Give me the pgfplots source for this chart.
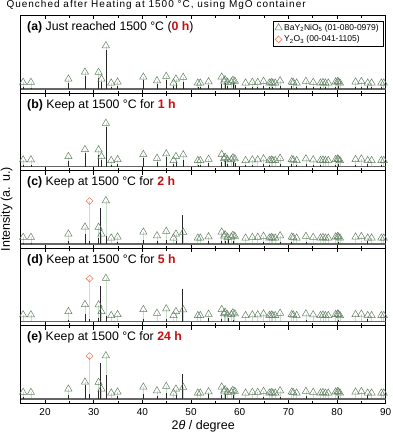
\documentclass[border=0pt]{standalone}
\usepackage{fontspec}
\setmainfont{Liberation Sans}
\usepackage{pgfplots}
\pgfplotsset{compat=1.18}
\usepgfplotslibrary{groupplots}
\usepackage{pgfplotstable}
\usepackage{xcolor}
\definecolor{trigreen}{RGB}{100,130,100}
\definecolor{lightgreen}{RGB}{200,222,200}
\definecolor{yorange}{RGB}{238,130,100}
\definecolor{lightorange}{RGB}{246,205,180}
\definecolor{hred}{RGB}{200,16,16}
\newcommand\lab{\fontsize{12.3}{14}\selectfont}

% reference lines BaY2NiO5 (01-080-0979): 2theta, marker height
\pgfplotstableread{
x h
15.5 6.7
17.1 6.7
24.8 10
28.2 17
31.0 16.7
31.6 10
32.5 43.3
33.6 6
34.9 7
40.2 12
43.0 8.3
44.9 12.7
46.4 6
46.9 10
48.4 11.7
51.4 6
51.9 6
53.6 7.3
56.3 12
56.8 8
57.0 9.3
57.5 6.7
58.3 7
58.6 8.7
59.0 7.7
61.2 6
62.6 6.7
63.7 6.7
64.9 7.7
66.1 6
66.5 6.5
66.8 6
67.3 6
68.3 8.3
70.7 7
71.0 6.5
71.7 6
73.6 7.7
75.1 6.7
76.6 6
77.1 6.5
77.6 6
78.2 6
79.7 7
80.1 7.5
80.3 7
80.6 6
83.8 7
85.0 7.5
86.3 6
87.1 6
89.1 6
89.6 6
}\bynio

% Y2O3 (00-041-1105)
\pgfplotstableread{
x h
29.15 43
}\yox

% measured patterns (peak heights above baseline)
\pgfplotstableread{
x h
15.5 2
17.1 1.5
24.8 6
28.2 13
31.0 11
31.6 7
32.5 39
33.6 2
34.9 3
40.2 9
43.0 5
44.9 9
46.4 3
46.9 6
48.4 7
51.4 2
51.9 2
53.6 4
56.3 5
57.0 6
57.5 3
58.6 6
59.0 4
61.2 2
62.6 2
63.7 2
64.9 3
66.1 2
66.8 2
68.3 3
70.7 3
71.7 2
73.6 3
75.1 2
76.6 2
77.6 2
79.7 2
80.3 3
83.8 2
85.0 2
86.3 3
87.1 2
89.1 2
}\pa

\pgfplotstableread{
x h
15.5 2
17.1 1.5
24.8 6
28.2 14
31.0 12
31.6 7
32.5 40
33.6 2
34.9 3
40.2 9
43.0 5
44.9 10
46.4 3
46.9 6
48.4 7
51.4 2
51.9 2
53.6 4
56.3 5
57.0 6
57.5 3
58.6 5
59.0 4
61.2 2
62.6 2
64.9 3
66.1 2
68.3 3
70.7 3
71.7 2
73.6 3
75.1 2
76.6 2
79.7 2
80.3 3
83.8 2
86.3 3
89.1 2
}\pb

\pgfplotstableread{
x h
15.5 1.5
17.1 1.5
24.8 3
28.2 10
29.15 3
31.0 6
31.45 36
32.5 8
34.9 2
40.2 4
43.0 3
44.9 4
46.9 3
48.2 29
53.6 3
56.3 3
57.0 3
57.6 5
58.6 3
64.9 2
68.3 2
70.7 2
73.6 2
80.3 2
86.3 3
}\pc

\pgfplotstableread{
x h
24.8 2
28.2 8
29.15 3
31.0 4
31.45 36
32.5 6
40.2 3
44.9 3
48.2 33
53.6 4
56.3 3
57.6 4
58.6 2
73.6 2
80.3 2
86.3 3
}\pd

\pgfplotstableread{
x h
15.5 2
24.8 4
28.2 14
29.15 5
31.0 9
31.45 36.5
32.5 24
34.9 3
40.2 5
43.0 3
44.9 6
46.9 4
48.2 25
53.6 5
56.3 4
57.0 5
58.6 4
64.9 2
68.3 2
73.6 3
80.3 3
86.3 4
}\pe

\pgfplotsset{
  dropg/.style={ycomb, lightgreen, line width=0.7pt, forget plot},
  dropo/.style={ycomb, lightorange, line width=0.7pt, forget plot},
  patt/.style={ycomb, black!85, line width=0.6pt, forget plot},
  base/.style={black!60, line width=1.4pt, forget plot},
  tri/.style={only marks, mark=triangle, mark size=4.2pt,
    mark options={draw=trigreen, fill=white, line width=0.5pt},
    legend image code/.code={\draw[##1] plot coordinates {(0pt,0pt)};}},
  dia/.style={only marks, mark=square, mark size=2.4pt,
    mark options={draw=yorange, fill=white, rotate=45, line width=0.6pt},
    legend image code/.code={\draw[##1] plot coordinates {(0pt,0pt)};}},
}

\begin{document}
\begin{tikzpicture}
\begin{groupplot}[
  group style={group size=1 by 5, vertical sep=0pt, xticklabels at=edge bottom},
  width=365pt, height=77.5pt, scale only axis,
  xmin=15, xmax=90, ymin=-4, ymax=73.5,
  xtick={20,30,...,90}, minor xtick={15,25,...,85},
  ytick=\empty,
  tick align=inside,
  major tick length=4pt, minor tick length=2.5pt,
  tick style={black, line width=0.6pt},
  axis line style={line width=0.8pt},
  xticklabel style={font=\fontsize{10}{12}\selectfont, yshift=-2pt},
  /pgf/number format/assume math mode=true,
]
\nextgroupplot[legend style={at={(1,1)}, anchor=north east, xshift=-2.7pt, yshift=-5.2pt,
  draw=black, line width=0.5pt, font=\fontsize{8.5}{10}\selectfont,
  inner xsep=2pt, inner ysep=1pt, row sep=0pt, cells={anchor=west}}]
\addplot[dropg] table {\bynio};
\addplot[base] coordinates {(15,0) (90,0)};
\addplot[patt] table {\pa};
\addplot[tri] table {\bynio};
\addlegendentry{BaY\textsubscript{2}NiO\textsubscript{5} (01-080-0979)}
\addlegendimage{dia}
\addlegendentry{Y\textsubscript{2}O\textsubscript{3} (00-041-1105)}
\node[anchor=west, font=\lab, xshift=3pt, yshift=-12pt] at (rel axis cs:0,1)
  {\textbf{(a)} Just reached 1500 °C (\textcolor{hred}{\textbf{0 h}})};

\nextgroupplot
\addplot[dropg] table {\bynio};
\addplot[base] coordinates {(15,0) (90,0)};
\addplot[patt] table {\pb};
\addplot[tri] table {\bynio};
\node[anchor=west, font=\lab, xshift=3pt, yshift=-12pt] at (rel axis cs:0,1)
  {\textbf{(b)} Keep at 1500 °C for \textcolor{hred}{\textbf{1 h}}};

\nextgroupplot
\addplot[dropg] table {\bynio};
\addplot[dropo] table {\yox};
\addplot[base] coordinates {(15,0) (90,0)};
\addplot[patt] table {\pc};
\addplot[tri] table {\bynio};
\addplot[dia] table {\yox};
\node[anchor=west, font=\lab, xshift=3pt, yshift=-12pt] at (rel axis cs:0,1)
  {\textbf{(c)} Keep at 1500 °C for \textcolor{hred}{\textbf{2 h}}};

\nextgroupplot
\addplot[dropg] table {\bynio};
\addplot[dropo] table {\yox};
\addplot[base] coordinates {(15,0) (90,0)};
\addplot[patt] table {\pd};
\addplot[tri] table {\bynio};
\addplot[dia] table {\yox};
\node[anchor=west, font=\lab, xshift=3pt, yshift=-12pt] at (rel axis cs:0,1)
  {\textbf{(d)} Keep at 1500 °C for \textcolor{hred}{\textbf{5 h}}};

\nextgroupplot
\addplot[dropg] table {\bynio};
\addplot[dropo] table {\yox};
\addplot[base] coordinates {(15,0) (90,0)};
\addplot[patt] table {\pe};
\addplot[tri] table {\bynio};
\addplot[dia] table {\yox};
\node[anchor=west, font=\lab, xshift=3pt, yshift=-12pt] at (rel axis cs:0,1)
  {\textbf{(e)} Keep at 1500 °C for \textcolor{hred}{\textbf{24 h}}};
\end{groupplot}

\node[anchor=base west, font=\fontsize{10}{12}\selectfont\addfontfeatures{LetterSpace=10}]
  at ([xshift=-17.7pt, yshift=7.5pt]group c1r1.north west)
  {Quenched after Heating at 1500 °C, using MgO container};
\node[rotate=90, font=\fontsize{12.5}{14}\selectfont]
  at ([xshift=-14pt]group c1r3.west) {Intensity (a. u.)};
\node[font=\fontsize{12.5}{14}\selectfont]
  at ([yshift=-23pt]group c1r5.south) {2\textit{θ} / degree};

\pgfresetboundingbox
\path[use as bounding box] ([xshift=-20.7pt, yshift=15.5pt]group c1r1.north west)
  rectangle ++(392pt,-434pt);
\end{tikzpicture}
\end{document}
